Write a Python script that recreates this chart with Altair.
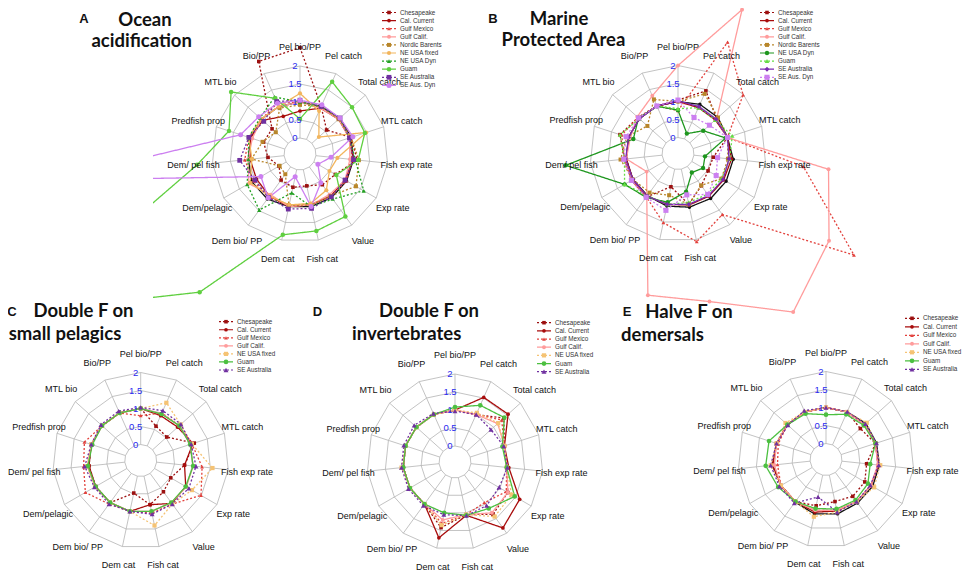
import altair as alt
import pandas as pd

# ---------------- categories / text ----------------
SPOKES = ["Pel bio/PP", "Pel catch", "Total catch", "MTL catch", "Fish exp rate",
          "Exp rate", "Value", "Fish cat", "Dem cat", "Dem bio/ PP", "Dem/pelagic",
          "Dem/ pel fish", "Predfish prop", "MTL bio", "Bio/PP"]
RING_VALUES = [0, 0.5, 1, 1.5, 2]
RING_TEXT = ["0", "0.5", "1", "1.5", "2"]

# ---------------- values (order of SPOKES) ----------------
# A  Ocean acidification
A_CHESAPEAKE = [2.51, 1.0, 0.55, 1.05, 1.15, 0.69, 0.61, 0.46, 0.5, 0.45, 0.23, 0.45, 0.62, 0.6, 2.37]
A_CAL_CURRENT = [0.75, 0.95, 1.0, 1.0, 1.05, 1.0, 1.0, 1.0, 1.05, 1.0, 0.95, 0.95, 1.0, 0.95, 0.7]
A_GULF_MEXICO = [1.0, 1.0, 1.0, 1.05, 1.0, 1.05, 1.0, 1.0, 1.0, 1.05, 1.05, 1.1, 1.05, 1.0, 1.1]
A_GULF_CALIF = [1.0, 0.95, 1.0, 1.0, 0.95, 1.0, 0.95, 1.0, 1.05, 0.95, 1.2, 1.0, 0.95, 1.0, 1.0]
A_NORDIC = [0.92, 1.0, 1.0, 1.05, 1.2, 1.35, 1.0, 1.0, 1.02, 0.25, 0.21, 0.91, 0.65, 0.46, 0.95]
A_NE_FIXED = [1.24, 0.86, 0.26, 1.49, 0.6, 0.5, 0.8, 0.96, 1.0, 1.0, 1.15, 0.9, 1.05, 1.0, 1.0]
A_NE_DYN = [1.0, 1.0, 1.05, 1.0, 1.1, 1.6, 1.1, 1.05, 0.66, 1.48, 1.25, 1.0, 1.05, 1.05, 1.29]
A_GUAM = [0.53, 1.75, 1.5, 1.45, 1.18, 0.72, 1.7, 1.74, 1.85, 4.3, 8.3, 2.43, 1.63, 2.13, 1.25]
A_SE_AUS = [1.05, 1.0, 1.05, 1.0, 1.05, 1.0, 1.03, 1.1, 1.12, 1.05, 1.0, 1.24, 1.05, 0.91, 1.15]
A_SE_AUS_DYN = [1.05, 1.05, 1.05, 1.1, 0.42, 0.13, 0.54, 1.05, 0.2, 1.06, 0.81, 6.5, 1.29, 1.1, 1.1]
A_OTHER = [1.0, 1.0, 1.05, 1.05, 1.05, 1.05, 1.05, 1.05, 1.05, 1.1, 1.1, 1.0, 1.0, 1.0, 1.0]

# B  Marine Protected Area
B_CHESAPEAKE = [1.04, 1.46, 1.0, 1.0, 0.54, 0.52, 0.66, 1.0, 0.5, 1.05, 1.05, 1.05, 1.25, 1.05, 1.0]
B_CAL_CURRENT = [1.0, 0.95, 0.95, 1.0, 1.05, 1.02, 1.02, 1.02, 1.0, 1.02, 1.0, 1.0, 1.0, 1.0, 1.0]
B_GULF_MEXICO = [0.75, 2.94, 1.99, 1.0, 3.06, 5.2, 1.65, 2.06, 1.52, 1.05, 1.05, 1.05, 1.2, 1.05, 1.0]
B_GULF_CALIF = [2.0, 3.93, 1.0, 0.99, 3.76, 4.4, 5.0, 3.76, 3.58, 1.03, 0.56, 1.0, 0.95, 1.08, 1.31]
B_NORDIC = [1.0, 1.37, 1.05, 1.0, 0.95, 0.95, 0.65, 1.0, 0.74, 0.9, 1.0, 1.16, 1.05, 0.7, 1.2]
B_NE_DYN = [0.76, 0.16, 0.5, 0.95, 0.31, 0.36, 0.21, 0.64, 0.94, 1.06, 1.27, 2.69, 0.86, 1.03, 0.99]
B_GUAM = [0.8, 0.95, 0.95, 1.14, 1.0, 0.95, 0.95, 0.95, 1.0, 1.0, 1.27, 1.05, 1.25, 1.0, 1.0]
B_SE_AUS = [1.02, 0.98, 0.98, 1.0, 0.98, 1.0, 1.0, 1.0, 1.0, 1.02, 1.0, 1.02, 1.0, 1.0, 1.0]
B_SE_AUS_DYN = [1.04, 0.65, 0.73, 1.0, 0.66, 0.78, 0.96, 0.73, 1.17, 1.06, 1.05, 1.07, 1.07, 1.03, 1.0]
B_OTHER = [1.0, 1.05, 1.05, 1.0, 1.1, 1.1, 1.1, 1.08, 1.05, 1.0, 1.0, 1.0, 1.0, 1.0, 1.0]

# C  Double F on small pelagics
C_CHESAPEAKE = [1.0, 0.6, 0.53, 1.12, 0.78, 0.52, 0.63, 0.81, 0.48, 1.0, 1.0, 1.0, 1.0, 1.0, 1.0]
C_CAL_CURRENT = [1.0, 0.92, 0.94, 1.08, 0.78, 1.0, 1.03, 0.81, 1.0, 1.0, 1.0, 1.0, 1.0, 1.0, 1.0]
C_GULF_MEXICO = [0.8, 1.0, 1.0, 1.05, 1.27, 1.49, 1.05, 1.05, 1.0, 1.05, 1.33, 1.15, 1.2, 1.0, 1.0]
C_GULF_CALIF = [1.0, 0.98, 1.0, 1.0, 1.02, 1.02, 1.0, 1.0, 1.0, 1.0, 1.02, 1.05, 1.0, 1.0, 1.0]
C_NE_FIXED = [1.0, 1.31, 1.05, 1.05, 1.56, 1.2, 1.05, 1.4, 1.0, 1.0, 1.02, 1.05, 1.0, 1.0, 1.0]
C_GUAM = [1.0, 0.97, 1.0, 1.0, 1.02, 1.0, 1.0, 1.0, 1.0, 1.0, 1.0, 1.03, 0.97, 1.0, 1.0]
C_SE_AUS = [1.03, 1.07, 1.06, 1.03, 1.1, 1.1, 1.05, 1.08, 1.0, 1.05, 1.04, 1.12, 1.0, 1.04, 1.06]

# D  Double F on invertebrates
D_CHESAPEAKE = [1.0, 1.0, 1.38, 1.0, 1.0, 1.25, 1.35, 1.05, 1.42, 1.0, 1.0, 1.0, 1.0, 1.0, 1.0]
D_CAL_CURRENT = [1.0, 1.52, 1.54, 1.0, 1.06, 1.63, 1.82, 1.07, 1.71, 1.0, 1.0, 1.0, 1.0, 1.0, 1.0]
D_GULF_MEXICO = [1.0, 1.0, 1.3, 1.0, 1.0, 1.2, 0.95, 1.05, 1.3, 1.0, 1.0, 1.0, 1.0, 1.0, 1.0]
D_GULF_CALIF = [1.0, 1.0, 1.15, 1.0, 1.0, 1.25, 1.3, 1.05, 1.2, 1.0, 1.0, 1.0, 1.0, 1.0, 1.0]
D_NE_FIXED = [1.0, 1.05, 1.17, 1.0, 1.0, 1.37, 1.43, 1.05, 1.35, 1.0, 1.0, 1.05, 1.0, 1.0, 1.0]
D_GUAM = [1.08, 1.28, 1.4, 0.94, 1.0, 1.47, 1.15, 1.07, 1.0, 1.0, 1.0, 1.0, 1.0, 1.0, 1.0]
D_SE_AUS = [0.97, 1.0, 0.9, 0.98, 1.02, 0.97, 1.05, 1.08, 1.05, 1.05, 1.05, 1.05, 1.05, 1.08, 1.03]

# E  Halve F on demersals
E_CHESAPEAKE = [1.0, 1.0, 0.84, 1.0, 0.69, 0.8, 0.82, 0.75, 0.87, 1.0, 1.0, 1.05, 1.0, 1.0, 1.0]
E_CAL_CURRENT = [1.0, 1.0, 1.0, 1.0, 1.02, 1.0, 1.0, 1.02, 1.05, 1.0, 1.0, 1.05, 1.0, 1.0, 1.0]
E_GULF_MEXICO = [1.0, 1.0, 1.0, 1.0, 1.0, 1.0, 1.0, 1.0, 1.0, 1.0, 1.0, 0.91, 0.95, 1.0, 1.0]
E_GULF_CALIF = [1.0, 1.0, 1.0, 1.0, 1.0, 1.0, 1.0, 1.0, 1.0, 1.0, 1.0, 1.0, 1.0, 1.0, 1.0]
E_NE_FIXED = [1.0, 1.0, 1.08, 1.0, 1.07, 1.1, 1.0, 1.05, 1.18, 1.0, 1.0, 1.1, 1.0, 1.07, 1.0]
E_GUAM = [0.8, 0.93, 0.97, 1.0, 0.79, 0.9, 0.95, 0.96, 0.95, 1.0, 1.09, 1.24, 1.22, 1.0, 0.95]
E_SE_AUS = [1.0, 1.01, 1.03, 1.03, 1.03, 0.98, 1.0, 1.05, 0.62, 1.05, 1.05, 1.1, 1.0, 0.98, 1.04]
E_OTHER = [1.0, 1.0, 1.05, 1.03, 1.05, 1.05, 1.05, 1.1, 1.1, 1.02, 1.0, 1.05, 1.0, 1.0, 1.0]

# series: (legend name or None, style key, values)
SERIES = {
    "A": [(None, "black", A_OTHER), ("Chesapeake", "ches", A_CHESAPEAKE),
          ("Cal. Current", "calc", A_CAL_CURRENT), ("Gulf Mexico", "gmex", A_GULF_MEXICO),
          ("Gulf Calif.", "gcal", A_GULF_CALIF), ("Nordic Barents", "nordic", A_NORDIC),
          ("NE USA fixed", "nefix_a", A_NE_FIXED), ("NE USA Dyn", "nedyn_a", A_NE_DYN),
          ("Guam", "guam_a", A_GUAM), ("SE Australia", "seaus_a", A_SE_AUS),
          ("SE Aus. Dyn", "sedyn_a", A_SE_AUS_DYN)],
    "B": [(None, "black", B_OTHER), ("Chesapeake", "ches", B_CHESAPEAKE),
          ("Cal. Current", "calc", B_CAL_CURRENT), ("Gulf Mexico", "gmex", B_GULF_MEXICO),
          ("Gulf Calif.", "gcal", B_GULF_CALIF), ("Nordic Barents", "nordic", B_NORDIC),
          ("NE USA Dyn", "nedyn_b", B_NE_DYN), ("Guam", "guam_b", B_GUAM),
          ("SE Australia", "seaus_b", B_SE_AUS), ("SE Aus. Dyn", "sedyn_b", B_SE_AUS_DYN)],
    "C": [("Chesapeake", "ches", C_CHESAPEAKE), ("Cal. Current", "calc", C_CAL_CURRENT),
          ("Gulf Mexico", "gmex", C_GULF_MEXICO), ("Gulf Calif.", "gcal", C_GULF_CALIF),
          ("NE USA fixed", "nefix", C_NE_FIXED), ("Guam", "guam", C_GUAM),
          ("SE Australia", "seaus", C_SE_AUS)],
    "D": [("Chesapeake", "ches", D_CHESAPEAKE), ("Cal. Current", "calc", D_CAL_CURRENT),
          ("Gulf Mexico", "gmex", D_GULF_MEXICO), ("Gulf Calif.", "gcal", D_GULF_CALIF),
          ("NE USA fixed", "nefix", D_NE_FIXED), ("Guam", "guam", D_GUAM),
          ("SE Australia", "seaus", D_SE_AUS)],
    "E": [(None, "black", E_OTHER), ("Chesapeake", "ches", E_CHESAPEAKE),
          ("Cal. Current", "calc", E_CAL_CURRENT), ("Gulf Mexico", "gmex", E_GULF_MEXICO),
          ("Gulf Calif.", "gcal", E_GULF_CALIF), ("NE USA fixed", "nefix", E_NE_FIXED),
          ("Guam", "guam", E_GUAM), ("SE Australia", "seaus", E_SE_AUS)],
}

TITLE_LETTERS = ["A", "B", "C", "D", "E"]
TITLE_LINES = {
    "A": ["Ocean", "acidification"],
    "B": ["Marine", "Protected Area"],
    "C": ["Double F on", "small pelagics"],
    "D": ["Double F on", "invertebrates"],
    "E": ["Halve F on", "demersals"],
}

# ---------------- layout & styles ----------------
CENTER = {"A": (300, 154), "B": (678, 153.5), "C": (140.7, 460.5), "D": (455, 462), "E": (826, 459.5)}
R0, K, LABEL_R = 16, 36, 107
LETTER_POS = {"A": (84, 19), "B": (493, 19), "C": (12, 312), "D": (317.5, 312), "E": (627, 312)}
LINE_POS = {"A": [(145, 19.5), (141.7, 40.5)], "B": [(559, 19), (563.5, 40)],
            "C": [(83.5, 311), (65, 333.5)], "D": [(429, 311), (406.7, 333.5)],
            "E": [(689, 311.5), (662.5, 334.5)]}
LEGEND_POS = {"A": (382, 12.5, 8.1), "B": (760, 12.5, 8.1), "C": (219, 321.7, 8.05),
              "D": (537, 322.7, 8.17), "E": (905, 318.3, 8.5)}

STYLE = {
    "black":   ("#111111", "solid", "circle", 12),
    "ches":    ("#9c1010", "dot", "square", 26),
    "calc":    ("#a80c0c", "solid", "circle", 24),
    "gmex":    ("#e2413c", "dot", "triangle-up", 26),
    "gcal":    ("#ff9c9c", "solid", "circle", 9),
    "nordic":  ("#b8862a", "dot", "square", 26),
    "nefix_a": ("#f2b55c", "solid", "circle", 9),
    "nefix":   ("#f5c374", "dot", "square", 28),
    "nedyn_a": ("#23a023", "dot", "triangle-up", 26),
    "nedyn_b": ("#1e961e", "solid", "circle", 22),
    "guam_a":  ("#5fcf3f", "solid", "circle", 9),
    "guam_b":  ("#66dd44", "dot", "triangle-up", 24),
    "guam":    ("#4cc040", "solid", "circle", 22),
    "seaus_a": ("#7030a0", "dot", "square", 28),
    "seaus_b": ("#7a2ab0", "solid", "diamond", 14),
    "seaus":   ("#7030a0", "dot", "triangle-up", 32),
    "sedyn_a": ("#cc7ff0", "solid", "circle", 24),
    "sedyn_b": ("#cc7ff0", "dot", "square", 28),
}
DASH = {"solid": [1, 0], "dot": [2, 2]}
SNAMES = list(STYLE.keys())
COLOR_SC = alt.Scale(domain=SNAMES, range=[STYLE[s][0] for s in SNAMES])
DASH_SC = alt.Scale(domain=SNAMES, range=[DASH[STYLE[s][1]] for s in SNAMES])
SHAPE_SC = alt.Scale(domain=SNAMES, range=[STYLE[s][2] for s in SNAMES])
SIZE_SC = alt.Scale(domain=SNAMES, range=[STYLE[s][3] for s in SNAMES])

XS = alt.Scale(domain=[153, 962], nice=False, zero=False)
YS = alt.Scale(domain=[571, 8], nice=False, zero=False)
X = alt.X("px:Q", scale=XS, axis=None)
Y = alt.Y("py:Q", scale=YS, axis=None)

# ---------------- tables ----------------
ser_rows = []
for p, lst in SERIES.items():
    for name, style, vals in lst:
        for i, v in enumerate(vals + [vals[0]]):
            ser_rows.append(dict(panel=p, key=f"{p}|{name}|{style}", style=style,
                                 idx=i % 15, ord=i, value=v, close=(i == 15),
                                 cx=CENTER[p][0], cy=CENTER[p][1]))
ser = pd.DataFrame(ser_rows)

grid_rows = []
for p in CENTER:
    for v in RING_VALUES:
        for i in range(16):
            grid_rows.append(dict(panel=p, key=f"{p}r{v}", idx=i % 15, ord=i, value=v,
                                  cx=CENTER[p][0], cy=CENTER[p][1]))
    for i in range(15):
        for v in (RING_VALUES[0], RING_VALUES[-1]):
            grid_rows.append(dict(panel=p, key=f"{p}s{i}", idx=i, ord=v, value=v,
                                  cx=CENTER[p][0], cy=CENTER[p][1]))
grid = pd.DataFrame(grid_rows)

lab = pd.DataFrame([dict(panel=p, idx=i, text=t, cx=CENTER[p][0], cy=CENTER[p][1])
                    for p in CENTER for i, t in enumerate(SPOKES)])
ring_lab = pd.DataFrame([dict(panel=p, idx=0, value=v, text=t, cx=CENTER[p][0] - 5, cy=CENTER[p][1])
                         for p in CENTER for v, t in zip(RING_VALUES, RING_TEXT)])

titles = pd.DataFrame([dict(text=t, px=LINE_POS[p][j][0], py=LINE_POS[p][j][1])
                       for p in TITLE_LINES for j, t in enumerate(TITLE_LINES[p])])
letters = pd.DataFrame([dict(text=L, px=LETTER_POS[L][0], py=LETTER_POS[L][1]) for L in TITLE_LETTERS])

leg_rows = []
for p, lst in SERIES.items():
    x0, y0, step = LEGEND_POS[p]
    j = 0
    for name, style, vals in lst:
        if name is None:
            continue
        leg_rows.append(dict(text=name, style=style, x1=x0, x2=x0 + 14, pxm=x0 + 7,
                             tx=x0 + 18, py=y0 + j * step))
        j += 1
leg = pd.DataFrame(leg_rows)


def polar(ch, rad):
    return ch.transform_calculate(
        ang="datum.idx * 2 * PI / 15",
        rr=rad,
        px="datum.cx + datum.rr * sin(datum.ang)",
        py="datum.cy - datum.rr * cos(datum.ang)",
    )


RAD = f"{R0} + {K} * datum.value"

grid_layer = polar(alt.Chart(grid), RAD).mark_line(color="#b4b4b4", strokeWidth=0.8).encode(
    x=X, y=Y, detail="key:N", order="ord:Q")


def series_layer(df, clip):
    base = polar(alt.Chart(df), RAD)
    line = base.mark_line(strokeWidth=1.3, clip=clip).encode(
        x=X, y=Y, detail="key:N", order="ord:Q",
        color=alt.Color("style:N", scale=COLOR_SC, legend=None),
        strokeDash=alt.StrokeDash("style:N", scale=DASH_SC, legend=None))
    pts = base.transform_filter("!datum.close").mark_point(filled=True, opacity=1, clip=clip).encode(
        x=X, y=Y,
        color=alt.Color("style:N", scale=COLOR_SC, legend=None),
        shape=alt.Shape("style:N", scale=SHAPE_SC, legend=None),
        size=alt.Size("style:N", scale=SIZE_SC, legend=None))
    return [line, pts]


layers = [grid_layer]
layers += series_layer(ser[ser.panel != "A"], False)
layers += series_layer(ser[ser.panel == "A"], True)

layers.append(polar(alt.Chart(lab), f"{LABEL_R}").mark_text(
    font="Liberation Sans", fontSize=9, color="#111111", align="center", baseline="middle").encode(
    x=X, y=Y, text="text:N"))
layers.append(polar(alt.Chart(ring_lab), RAD).mark_text(
    font="Liberation Sans", fontSize=9.5, color="#2a2af0", align="center", baseline="middle").encode(
    x=X, y=Y, text="text:N"))
layers.append(alt.Chart(titles).mark_text(
    font="Lato", fontWeight="bold", fontSize=18.5, color="#111111", align="center", baseline="middle").encode(
    x=X, y=Y, text="text:N"))
layers.append(alt.Chart(letters).mark_text(
    font="Liberation Sans", fontWeight="bold", fontSize=13, color="#111111", align="center", baseline="middle").encode(
    x=X, y=Y, text="text:N"))
layers.append(alt.Chart(leg).mark_rule(strokeWidth=1.2).encode(
    x=alt.X("x1:Q", scale=XS, axis=None), x2="x2:Q", y=Y,
    color=alt.Color("style:N", scale=COLOR_SC, legend=None),
    strokeDash=alt.StrokeDash("style:N", scale=DASH_SC, legend=None)))
layers.append(alt.Chart(leg).mark_point(filled=True, opacity=1).encode(
    x=alt.X("pxm:Q", scale=XS, axis=None), y=Y,
    color=alt.Color("style:N", scale=COLOR_SC, legend=None),
    shape=alt.Shape("style:N", scale=SHAPE_SC, legend=None),
    size=alt.Size("style:N", scale=SIZE_SC, legend=None)))
layers.append(alt.Chart(leg).mark_text(
    font="Liberation Sans", fontSize=6.3, color="#333333", align="left", baseline="middle").encode(
    x=alt.X("tx:Q", scale=XS, axis=None), y=Y, text="text:N"))

chart = alt.layer(*layers).properties(
    width=809, height=563,
    padding={"left": 145, "top": 0, "right": 0, "bottom": 0},
    autosize=alt.AutoSizeParams(type="none"),
).configure_view(stroke=None)

chart.save("out.html", embed_options={"renderer": "svg", "actions": False})
